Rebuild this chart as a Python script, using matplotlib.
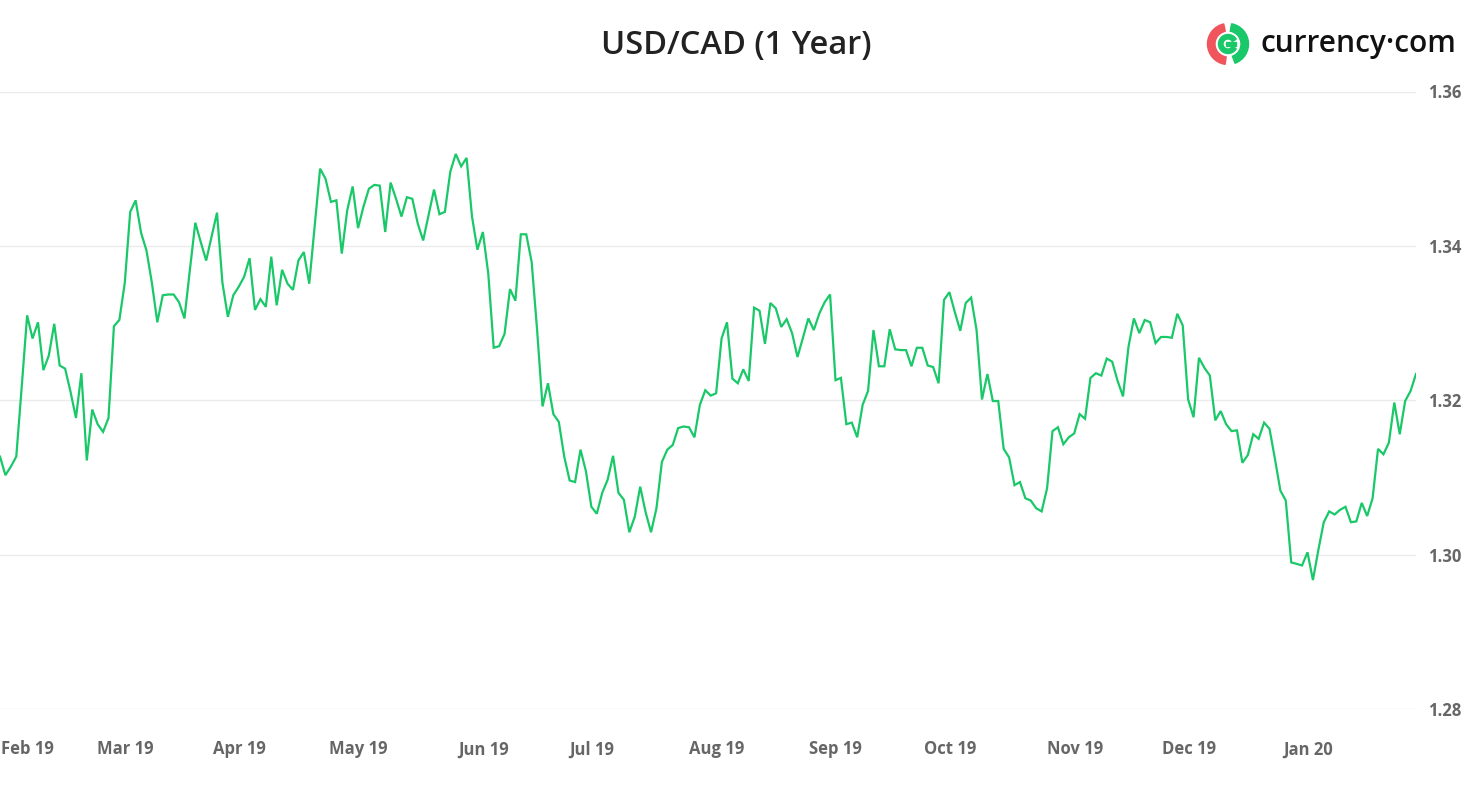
import numpy as np
import pandas as pd
import matplotlib
matplotlib.use("Agg")
import matplotlib.pyplot as plt
import matplotlib.transforms as mtransforms
from matplotlib.patches import Wedge, Rectangle

# ---------------- data ----------------
start_date = "2019-01-28"
usdcad = [
    1.3127, 1.3103, 1.3114, 1.3127, 1.3217, 1.3310, 1.3280, 1.3301, 1.3239, 1.3258,
    1.3299, 1.3245, 1.3241, 1.3211, 1.3177, 1.3235, 1.3122, 1.3188, 1.3169, 1.3159,
    1.3177, 1.3296, 1.3304, 1.3352, 1.3444, 1.3459, 1.3417, 1.3394, 1.3352, 1.3301,
    1.3336, 1.3337, 1.3337, 1.3327, 1.3306, 1.3369, 1.3430, 1.3405, 1.3381, 1.3412,
    1.3443, 1.3352, 1.3308, 1.3336, 1.3347, 1.3360,
    1.3384, 1.3317, 1.3331, 1.3321, 1.3386, 1.3323, 1.3369, 1.3351, 1.3343, 1.3381,
    1.3392, 1.3351, 1.3425, 1.3500, 1.3487, 1.3457, 1.3459, 1.3390, 1.3446, 1.3477,
    1.3423, 1.3451, 1.3474, 1.3479, 1.3478, 1.3418, 1.3482, 1.3461, 1.3438, 1.3463,
    1.3461, 1.3429, 1.3407, 1.3440, 1.3473, 1.3441, 1.3444, 1.3496, 1.3519, 1.3503,
    1.3514, 1.3438, 1.3395, 1.3418,
    1.3364, 1.3268, 1.3270, 1.3286, 1.3344, 1.3329, 1.3415, 1.3415, 1.3379, 1.3291,
    1.3192, 1.3222, 1.3182, 1.3172, 1.3127, 1.3096, 1.3094, 1.3136, 1.3108, 1.3062,
    1.3053, 1.3080, 1.3097, 1.3128, 1.3080, 1.3071, 1.3029, 1.3049, 1.3088, 1.3055,
    1.3029, 1.3060, 1.3120, 1.3136, 1.3142, 1.3164, 1.3166, 1.3165, 1.3152, 1.3194,
    1.3213, 1.3206, 1.3209, 1.3280, 1.3301,
    1.3228, 1.3222, 1.3240, 1.3225, 1.3320, 1.3316, 1.3273, 1.3326, 1.3319, 1.3295,
    1.3305, 1.3287, 1.3256, 1.3281, 1.3306, 1.3291, 1.3312, 1.3327, 1.3337, 1.3226,
    1.3229, 1.3169, 1.3171, 1.3152, 1.3194, 1.3212, 1.3291, 1.3244, 1.3244, 1.3292,
    1.3266, 1.3265, 1.3265, 1.3244, 1.3268, 1.3268, 1.3245, 1.3243, 1.3222, 1.3330,
    1.3340,
    1.3314, 1.3290, 1.3326, 1.3333, 1.3291, 1.3201, 1.3234, 1.3199, 1.3199, 1.3137,
    1.3126, 1.3090, 1.3094, 1.3073, 1.3070, 1.3060, 1.3056, 1.3086, 1.3160, 1.3165,
    1.3143, 1.3152, 1.3157, 1.3182, 1.3176, 1.3229, 1.3235, 1.3232, 1.3254, 1.3250,
    1.3225, 1.3205, 1.3269, 1.3306, 1.3287, 1.3304, 1.3301, 1.3274, 1.3282, 1.3282,
    1.3281, 1.3312,
    1.3297, 1.3201, 1.3178, 1.3255, 1.3242, 1.3232, 1.3174, 1.3186, 1.3169, 1.3160,
    1.3161, 1.3119, 1.3129, 1.3156, 1.3150, 1.3171, 1.3163, 1.3124, 1.3083, 1.3070,
    1.2990, 1.2988, 1.2986, 1.3003, 1.2967, 1.3006, 1.3042, 1.3056, 1.3052, 1.3058,
    1.3062, 1.3042, 1.3043, 1.3067, 1.3050, 1.3073, 1.3137, 1.3130, 1.3145, 1.3197,
    1.3156, 1.3199, 1.3212, 1.3234,
]
y_ticks = [1.28, 1.30, 1.32, 1.34, 1.36]
y_tick_labels = ["1.28", "1.30", "1.32", "1.34", "1.36"]
title_text = "USD/CAD (1 Year)"
brand_text = "currency\u00b7com"

dates = pd.bdate_range(start_date, periods=len(usdcad))
x = np.arange(len(usdcad))

# month tick positions: first business day of each month after the start
month_pos = []
month_lab = []
prev = None
for i, d in enumerate(dates):
    key = (d.year, d.month)
    if key != prev:
        if i > 0:
            month_pos.append(i)
            month_lab.append(d.strftime("%b %y"))
        prev = key

# ---------------- figure ----------------
W, H = 1472, 785
fig = plt.figure(figsize=(W / 100, H / 100), dpi=100)
fig.patch.set_facecolor("white")

ax_left, ax_right = 0 / W, 1416 / W
ax_bottom, ax_top = (H - 709) / H, (H - 91.5) / H
ax = fig.add_axes([ax_left, ax_bottom, ax_right - ax_left, ax_top - ax_bottom])

ax.plot(x, usdcad, color="#19c868", lw=1.6, solid_joinstyle="miter", zorder=3)

ax.set_xlim(0, len(usdcad) - 1)
ax.set_ylim(1.28, 1.36)
ax.set_yticks(y_ticks)
ax.set_yticklabels(y_tick_labels)
ax.yaxis.tick_right()
ax.grid(axis="y", color="#ebebeb", lw=1.0)
ax.set_axisbelow(True)
for s in ax.spines.values():
    s.set_visible(False)

ax.set_xticks(month_pos)
ax.set_xticklabels(month_lab)
ax.tick_params(axis="both", length=0)
ax.tick_params(axis="y", pad=9, labelsize=12, labelcolor="#666666")
ax.tick_params(axis="x", pad=22.5, labelsize=12, labelcolor="#666666")
for lab in ax.get_yticklabels() + ax.get_xticklabels():
    lab.set_fontfamily(["Open Sans", "DejaVu Sans"])
    lab.set_fontweight("bold")

# small horizontal adjustments of x labels
xl = ax.get_xticklabels()
for i, lab in enumerate(xl):
    dx = 6 if i == 0 else -5
    lab.set_transform(lab.get_transform() + mtransforms.ScaledTranslation(dx / 100, 0, fig.dpi_scale_trans))

# title
fig.text(736 / W, 1 - 45 / H, title_text, ha="center", va="center",
         fontsize=23.5, color="#222222", family=["Open Sans", "DejaVu Sans"], fontweight="semibold")

# logo
cx, cy, r = 1228, 785 - 44, 20.5
lax = fig.add_axes([0, 0, 1, 1], facecolor="none")
lax.set_xlim(0, W)
lax.set_ylim(0, H)
lax.axis("off")
lax.add_patch(Wedge((cx, cy), r, 102, 262, width=7.5, color="#f0545c"))
lax.add_patch(Wedge((cx, cy), r, -70, 80, width=7.5, color="#19c868"))
lax.add_patch(Wedge((cx, cy), 9.5, 30, 330, width=4.5, color="#19c868"))
lax.add_patch(Rectangle((cx - 2, cy - 2.2), 10, 4.4, color="#19c868"))
fig.text(1261 / W, 1 - 44 / H, brand_text, ha="left", va="center",
         fontsize=21.5, color="#111111", family=["Open Sans", "DejaVu Sans"], fontweight="semibold")

fig.savefig("out.png", dpi=100, facecolor="white")
